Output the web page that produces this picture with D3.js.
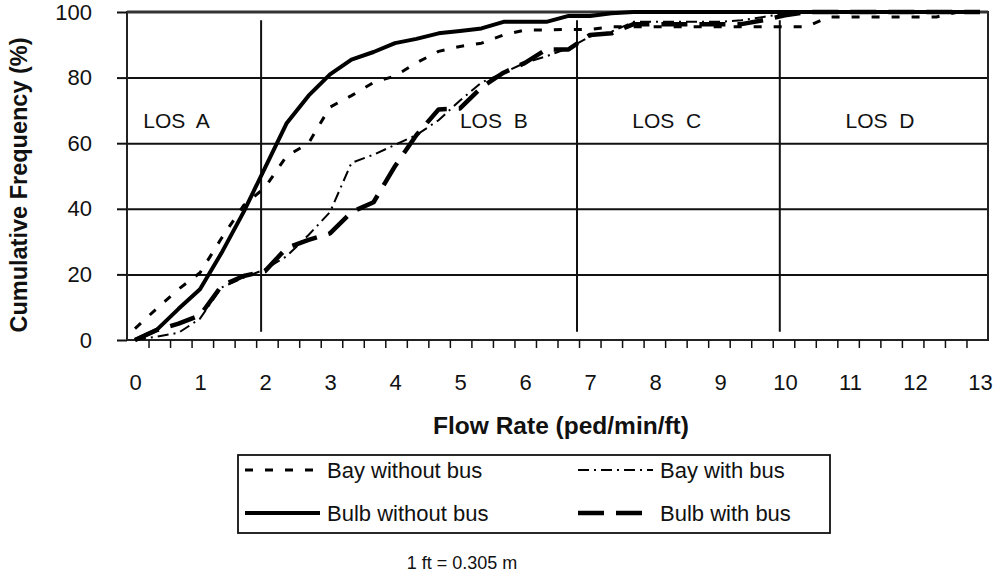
<!DOCTYPE html>
<html><head><meta charset="utf-8">
<script src="https://cdn.jsdelivr.net/npm/d3@7"></script>
<style>
body{margin:0;background:#fff}
svg{display:block}
text{font-family:"Liberation Sans",Arial,Helvetica,sans-serif;fill:#111}
</style>
</head><body>
<svg id="c" width="997" height="581"></svg>
<script>
// ---------------- data ----------------
const flow = [0,0.33,0.67,1,1.33,1.67,2,2.33,2.67,3,3.33,3.67,4,4.33,4.67,5,5.33,5.67,6,6.33,6.67,7,7.33,7.67,8,8.33,8.67,9,9.33,9.67,10,10.33,10.67,11,11.33,11.67,12,12.33,12.67,13];
const bayWithoutBus = [3.5,9.5,15.5,20.5,31,41,46.5,56,60,71,74.5,78.5,80.5,84.5,88,89.5,90.5,93,94.5,94.5,94.7,94.7,95.5,95.5,95.5,95.5,95.5,95.5,95.5,95.5,95.5,95.5,98.5,98.5,98.5,98.5,98.5,98.5,100,100];
const bayWithBus = [0,1,2.2,6.5,16,19,21.5,25.5,32,39,54,56.5,59.5,62.5,67,73,78.5,81.5,84.5,86.5,89,92.5,94,97,97,97,97,97,97.5,98.5,99.5,100,100,100,100,100,100,100,100,100];
const bulbWithoutBus = [0,3,9.5,15.5,26.5,39,52.5,66,74.5,81,85.5,87.8,90.5,91.8,93.5,94.2,95,97,97,97,98.8,98.8,99.6,100,100,100,100,100,100,100,100,100,100,100,100,100,100,100,100,100];
const bulbWithBus = [0,3,5,7.5,16.5,19.5,21,28,30.5,32.5,39,42,53,62.5,70.3,70.6,77,81.5,84.5,88.6,88.6,93,93.5,96.3,96.3,96.3,96.3,96.3,96.3,97.5,99,100,100,100,100,100,100,100,100,100];
const seriesNames = ["Bay without bus","Bay with bus","Bulb without bus","Bulb with bus"];
const yTicks = [0,20,40,60,80,100];
const xTickLabels = [0,1,2,3,4,5,6,7,8,9,10,11,12,13];
const losBounds = [1.94,6.8,9.92];
const losNames = ["LOS  A","LOS  B","LOS  C","LOS  D"];
const losLabelPos = [0.64,5.52,8.18,11.46];

// ---------------- layout ----------------
const svg = d3.select("#c");
const pL=127,pR=988,pT=12,pB=340;
const x = d3.scaleLinear().domain([-8/65, 13+8/65]).range([pL,pR]);
const y = d3.scaleLinear().domain([0,100]).range([pB,pT]);

const styles = {
  "Bay without bus": {w:3, dash:"8,12"},
  "Bay with bus": {w:2, dash:"11,5,2,5"},
  "Bulb without bus": {w:4, dash:null},
  "Bulb with bus": {w:4.5, dash:"26,12"}
};
const dataBy = {
  "Bay without bus": bayWithoutBus,
  "Bay with bus": bayWithBus,
  "Bulb without bus": bulbWithoutBus,
  "Bulb with bus": bulbWithBus
};

// gridlines
const grid = svg.append("g").attr("transform",`translate(${pL},0)`)
  .call(d3.axisLeft(y).tickValues([20,40,60,80]).tickSize(-(pR-pL)).tickFormat(""));
grid.select(".domain").remove();
grid.selectAll("line").attr("stroke","#111").attr("stroke-width",2);

// frame
svg.append("rect").attr("x",pL).attr("y",pT).attr("width",pR-pL).attr("height",pB-pT)
  .attr("fill","none").attr("stroke","#222").attr("stroke-width",2);
svg.append("line").attr("x1",pL).attr("x2",pR).attr("y1",pT).attr("y2",pT)
  .attr("stroke","#333").attr("stroke-width",3);

// y axis
const ya = svg.append("g").attr("transform",`translate(${pL},0)`)
  .call(d3.axisLeft(y).tickValues(yTicks).tickSize(10).tickPadding(25));
ya.select(".domain").remove();
ya.selectAll("line").attr("stroke","#111").attr("stroke-width",2);
ya.selectAll("text").attr("font-size",22).attr("fill","#111")
  .attr("font-family","'Liberation Sans',Arial,sans-serif");

// x axis minor ticks
const nSlots = 40;
const minorVals = d3.range(1,nSlots).map(k => x.invert(pL + k*(pR-pL)/nSlots));
const xm = svg.append("g").attr("transform",`translate(0,${pB})`)
  .call(d3.axisBottom(x).tickValues(minorVals).tickSize(8).tickFormat(""));
xm.select(".domain").remove();
xm.selectAll("line").attr("stroke","#111").attr("stroke-width",1.5);

// x axis labels
const xl = svg.append("g").attr("transform",`translate(0,${pB})`)
  .call(d3.axisBottom(x).tickValues(xTickLabels).tickSize(0).tickPadding(34).tickFormat(d3.format("d")));
xl.select(".domain").remove();
xl.selectAll("text").attr("font-size",22).attr("fill","#111")
  .attr("font-family","'Liberation Sans',Arial,sans-serif");

// LOS boundary lines
svg.append("g").selectAll("line").data(losBounds).join("line")
  .attr("x1",d=>x(d)).attr("x2",d=>x(d)).attr("y1",y(97.5)).attr("y2",y(2.5))
  .attr("stroke","#111").attr("stroke-width",2);

// LOS labels
svg.append("g").selectAll("text").data(losNames).join("text")
  .attr("x",(d,i)=>x(losLabelPos[i])).attr("y",y(64.6))
  .attr("text-anchor","middle").attr("font-size",21)
  .style("white-space","pre").text(d=>d);

// series
const line = d3.line().x((d,i)=>x(flow[i])).y(d=>y(d));
["Bulb with bus","Bulb without bus","Bay without bus","Bay with bus"].forEach(name=>{
  const s = styles[name];
  svg.append("path").datum(dataBy[name]).attr("d",line)
    .attr("fill","none").attr("stroke","#000").attr("stroke-width",s.w)
    .attr("stroke-dasharray",s.dash).attr("stroke-linejoin","round");
});

// axis titles
svg.append("text").attr("transform","translate(27,185) rotate(-90)")
  .attr("text-anchor","middle").attr("font-size",23.5).attr("font-weight","bold")
  .text("Cumulative Frequency (%)");
svg.append("text").attr("x",561).attr("y",434)
  .attr("text-anchor","middle").attr("font-size",24.5).attr("font-weight","bold")
  .text("Flow Rate (ped/min/ft)");

// legend
const lg = svg.append("g");
lg.append("rect").attr("x",238).attr("y",455).attr("width",592).attr("height",78)
  .attr("fill","none").attr("stroke","#111").attr("stroke-width",1.8);
const legPos = [[245,470],[578,470],[245,513],[578,513]];
seriesNames.forEach((name,i)=>{
  const [lx,ly] = legPos[i];
  const s = styles[name];
  lg.append("line").attr("x1",lx).attr("x2",lx+75).attr("y1",ly).attr("y2",ly)
    .attr("stroke","#000").attr("stroke-width",s.w).attr("stroke-dasharray",s.dash);
  lg.append("text").attr("x",lx+82).attr("y",ly+8).attr("font-size",22).text(name);
});

// note
svg.append("text").attr("x",462).attr("y",569).attr("text-anchor","middle")
  .attr("font-size",18).text("1 ft = 0.305 m");
</script>
</body></html>
